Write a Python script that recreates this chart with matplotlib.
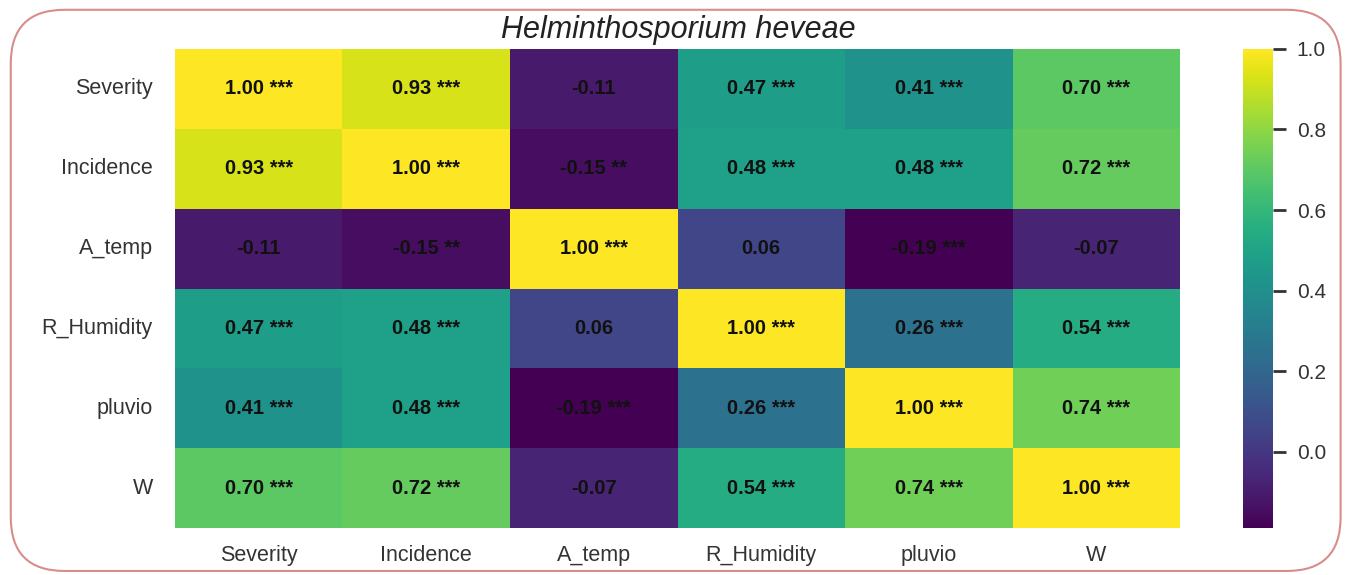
import numpy as np
import matplotlib.pyplot as plt
import seaborn as sns
from matplotlib.patches import FancyBboxPatch

variables = ['Severity', 'Incidence', 'A_temp', 'R_Humidity', 'pluvio', 'W']

corr = np.array([
    [1.00, 0.93, -0.11, 0.47, 0.41, 0.70],
    [0.93, 1.00, -0.15, 0.48, 0.48, 0.72],
    [-0.11, -0.15, 1.00, 0.06, -0.19, -0.07],
    [0.47, 0.48, 0.06, 1.00, 0.26, 0.54],
    [0.41, 0.48, -0.19, 0.26, 1.00, 0.74],
    [0.70, 0.72, -0.07, 0.54, 0.74, 1.00],
])

stars = [
    ['***', '***', '', '***', '***', '***'],
    ['***', '***', '**', '***', '***', '***'],
    ['', '**', '***', '', '***', ''],
    ['***', '***', '', '***', '***', '***'],
    ['***', '***', '***', '***', '***', '***'],
    ['***', '***', '', '***', '***', '***'],
]

labels = np.array([[f"{corr[i, j]:.2f} {stars[i][j]}".strip()
                    for j in range(len(variables))] for i in range(len(variables))])

plt.rcParams['font.family'] = ['Liberation Sans', 'DejaVu Sans']

fig = plt.figure(figsize=(13.46, 5.75), dpi=100)
ax = fig.add_axes([0.130, 0.0817, 0.7467, 0.8331])
cax = fig.add_axes([0.9235, 0.0817, 0.0223, 0.8331])

sns.heatmap(corr, ax=ax, cbar_ax=cax, cmap='viridis', annot=labels, fmt='',
            annot_kws={'fontsize': 14.5, 'fontweight': 'bold', 'color': '#111111'},
            xticklabels=variables, yticklabels=variables)

ax.tick_params(axis='both', length=0, labelsize=15.5, labelcolor='#333333')
ax.tick_params(axis='y', pad=16)
ax.tick_params(axis='x', pad=12)
ax.set_yticklabels(variables, rotation=0)
ax.set_xticklabels(variables, rotation=0)

cax.tick_params(labelsize=15, labelcolor='#333333', length=9, width=2,
                color='#333333', pad=8)
cax.set_yticks([0.0, 0.2, 0.4, 0.6, 0.8, 1.0])
cax.set_yticklabels(['0.0', '0.2', '0.4', '0.6', '0.8', '1.0'])
for s in cax.spines.values():
    s.set_visible(False)

fig.text(0.504, 0.948, 'Helminthosporium heveae', ha='center', va='center',
         fontsize=22, style='italic', color='#222222')

# rounded frame around the whole figure
frame = FancyBboxPatch((0.008, 0.007), 0.988, 0.976, transform=fig.transFigure,
                       boxstyle='round,pad=0,rounding_size=0.04',
                       facecolor='none', edgecolor='#d98c8c', linewidth=1.5,
                       mutation_aspect=1346 / 575)
fig.patches.append(frame)

fig.savefig('out.png', dpi=100)
